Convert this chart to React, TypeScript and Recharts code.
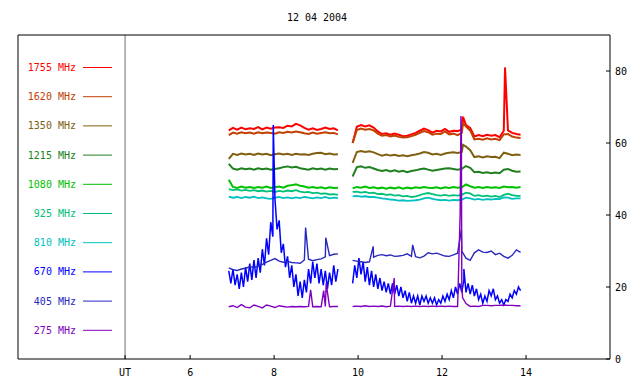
import React from 'react'
import { ComposedChart, Line, XAxis, YAxis, ReferenceLine } from 'recharts'

const FONT = '"DejaVu Sans Mono", monospace'

// time grids (UT hours) for the two observing blocks
const T1 = [6.92, 7.02, 7.12, 7.22, 7.32, 7.42, 7.52, 7.62, 7.72, 7.82, 7.92, 8.02, 8.12, 8.22, 8.32, 8.42, 8.52, 8.62, 8.72, 8.82, 8.92, 9.02, 9.12, 9.22, 9.32, 9.42, 9.52]
const T2 = [9.87, 9.97, 10.07, 10.17, 10.27, 10.37, 10.47, 10.57, 10.67, 10.77, 10.87, 10.97, 11.07, 11.17, 11.27, 11.37, 11.47, 11.57, 11.67, 11.77, 11.87, 11.97, 12.07, 12.17, 12.27, 12.37, 12.47, 12.57, 12.67, 12.77, 12.87, 12.97, 13.07, 13.17, 13.27, 13.37, 13.47, 13.57, 13.67, 13.77, 13.87]
// finer grid for the noisy 670 MHz channel
const T1F = [6.92, 6.97, 7.02, 7.07, 7.12, 7.17, 7.22, 7.27, 7.32, 7.37, 7.42, 7.47, 7.52, 7.57, 7.62, 7.67, 7.72, 7.77, 7.82, 7.87, 7.92, 7.97, 8.02, 8.07, 8.12, 8.17, 8.22, 8.27, 8.32, 8.37, 8.42, 8.47, 8.52, 8.57, 8.62, 8.67, 8.72, 8.77, 8.82, 8.87, 8.92, 8.97, 9.02, 9.07, 9.12, 9.17, 9.22, 9.27, 9.32, 9.37, 9.42, 9.47, 9.52]
const T2F = [9.87, 9.92, 9.97, 10.02, 10.07, 10.12, 10.17, 10.22, 10.27, 10.32, 10.37, 10.42, 10.47, 10.52, 10.57, 10.62, 10.67, 10.72, 10.77, 10.82, 10.87, 10.92, 10.97, 11.02, 11.07, 11.12, 11.17, 11.22, 11.27, 11.32, 11.37, 11.42, 11.47, 11.52, 11.57, 11.62, 11.67, 11.72, 11.77, 11.82, 11.87, 11.92, 11.97, 12.02, 12.07, 12.12, 12.17, 12.22, 12.27, 12.32, 12.37, 12.42, 12.47, 12.52, 12.57, 12.62, 12.67, 12.72, 12.77, 12.82, 12.87, 12.92, 12.97, 13.02, 13.07, 13.12, 13.17, 13.22, 13.27, 13.32, 13.37, 13.42, 13.47, 13.52, 13.57, 13.62, 13.67, 13.72, 13.77, 13.82, 13.87]
const GAP = 9.7

const V1755_1 = [63.5, 64.2, 63.7, 64.3, 63.8, 64.1, 63.9, 64.4, 63.8, 64.3, 64.0, 64.3, 64.4, 64.2, 64.8, 64.6, 65.3, 64.9, 64.2, 63.7, 64.1, 63.6, 63.9, 64.3, 63.9, 64.1, 63.5]
const V1755_2 = [60.0, 64.5, 65.0, 64.6, 64.9, 64.3, 63.2, 62.5, 62.7, 62.3, 62.6, 62.3, 61.9, 62.0, 62.4, 62.8, 63.4, 64.0, 63.6, 62.9, 63.4, 63.2, 63.9, 63.1, 63.4, 63.3, 63.8, 65.0, 64.2, 61.8, 62.2, 61.9, 62.3, 62.0, 62.2, 61.6, 63.4, 63.5, 62.8, 62.5, 62.3]
const S1755 = [[12.5, 67.3], [13.5, 81]]

const V1620_1 = [62.2, 62.9, 62.6, 63.0, 62.7, 62.9, 62.6, 63.0, 62.7, 62.9, 62.8, 62.6, 63.0, 62.8, 63.1, 62.9, 63.2, 63.0, 62.7, 62.5, 62.9, 62.6, 62.8, 63.0, 62.7, 62.8, 62.4]
const V1620_2 = [60.0, 63.6, 64.0, 63.7, 63.9, 63.5, 62.6, 62.0, 62.2, 61.8, 62.1, 61.7, 61.5, 61.6, 61.9, 62.3, 62.8, 63.3, 63.0, 62.3, 62.6, 62.5, 63.2, 62.4, 62.6, 62.2, 62.8, 64.6, 63.5, 61.0, 61.2, 60.9, 61.3, 61.0, 61.2, 60.8, 62.4, 62.5, 61.8, 61.5, 61.4]
const S1620 = [[12.5, 65.5]]

const V1350_1 = [55.6, 57.0, 56.7, 57.1, 56.8, 57.0, 56.7, 57.1, 56.8, 57.0, 56.6, 56.9, 57.1, 56.8, 57.0, 56.7, 57.0, 56.8, 56.9, 56.7, 57.0, 57.2, 57.3, 56.9, 57.1, 56.8, 56.9]
const V1350_2 = [54.5, 57.5, 57.8, 57.5, 57.7, 57.4, 56.9, 56.5, 56.8, 56.5, 56.7, 56.4, 56.6, 56.3, 56.6, 56.8, 57.1, 57.5, 57.3, 56.8, 57.0, 56.7, 57.1, 57.3, 57.4, 57.2, 57.5, 59.0, 58.0, 56.1, 56.3, 56.0, 56.3, 56.1, 56.2, 55.8, 57.3, 57.0, 56.6, 56.8, 56.7]
const S1350 = [[12.5, 59.5]]

const V1215_1 = [54.2, 52.9, 52.6, 53.0, 52.7, 52.9, 52.6, 53.0, 52.7, 52.9, 52.6, 52.8, 53.0, 53.3, 53.5, 53.2, 53.4, 53.0, 52.8, 52.6, 53.0, 52.7, 52.9, 52.6, 52.9, 52.7, 52.8]
const V1215_2 = [50.7, 53.3, 53.5, 53.1, 53.3, 52.9, 52.5, 52.2, 52.5, 52.1, 52.4, 52.0, 52.3, 51.9, 52.2, 52.4, 52.7, 52.9, 52.6, 52.3, 52.5, 52.7, 52.9, 53.0, 52.8, 52.6, 52.8, 53.6, 53.1, 51.9, 52.0, 51.7, 51.9, 51.6, 51.8, 51.6, 52.6, 52.8, 52.3, 52.0, 52.1]

const V1080_1 = [49.8, 47.8, 47.5, 47.9, 47.6, 47.8, 47.5, 47.8, 47.6, 47.9, 47.5, 47.7, 47.9, 47.6, 48.1, 48.3, 48.5, 48.1, 47.9, 47.6, 47.8, 47.5, 47.7, 47.4, 47.7, 47.5, 47.6]
const V1080_2 = [47.4, 47.8, 47.6, 47.9, 47.5, 47.7, 47.4, 47.6, 47.3, 47.6, 47.4, 47.7, 47.3, 47.6, 47.4, 47.7, 47.5, 47.8, 47.6, 47.5, 47.7, 47.4, 47.7, 47.5, 47.8, 47.6, 47.7, 48.5, 48.0, 47.6, 47.8, 47.5, 47.8, 47.6, 47.7, 47.5, 47.9, 47.7, 47.8, 47.6, 47.8]

const V925_1 = [47.2, 46.9, 47.1, 46.8, 47.0, 46.7, 46.9, 46.6, 46.8, 46.5, 46.7, 46.4, 46.7, 46.5, 46.8, 46.6, 46.9, 46.5, 46.3, 46.4, 46.1, 46.2, 45.9, 46.0, 45.7, 45.8, 45.6]
const V925_2 = [46.4, 46.5, 46.2, 46.4, 46.1, 46.2, 45.8, 45.9, 45.6, 45.7, 45.4, 45.5, 45.2, 45.3, 45.0, 45.2, 45.5, 45.9, 46.1, 45.8, 45.5, 45.4, 45.6, 45.3, 45.5, 45.4, 45.6, 46.2, 46.0, 45.3, 45.5, 45.2, 45.4, 45.1, 45.3, 45.0, 45.6, 45.9, 45.5, 45.3, 45.3]

const V810_1 = [45.1, 44.8, 45.0, 44.7, 45.0, 44.8, 45.1, 44.7, 44.9, 44.6, 44.5, 44.8, 45.0, 44.7, 44.9, 44.6, 44.9, 44.7, 45.0, 44.8, 44.6, 44.9, 44.7, 45.0, 44.6, 44.8, 44.7]
const V810_2 = [45.2, 45.3, 45.1, 45.2, 45.0, 45.0, 44.8, 44.6, 44.5, 44.3, 44.2, 44.0, 44.1, 43.9, 44.0, 44.1, 44.3, 44.6, 44.8, 44.5, 44.3, 44.1, 44.2, 44.0, 44.2, 44.1, 44.3, 44.8, 44.6, 44.3, 44.5, 44.2, 44.4, 44.3, 44.5, 44.4, 44.9, 44.8, 44.5, 44.6, 44.6]

const V670_1 = [24.5, 21.0, 25.0, 20.5, 23.5, 19.5, 24.0, 20.0, 25.5, 21.5, 26.5, 22.0, 27.5, 22.5, 28.0, 24.0, 30.5, 26.0, 33.5, 29.0, 38.0, 34.0, 44.5, 36.0, 38.5, 29.5, 32.0, 25.5, 28.5, 22.5, 26.0, 20.0, 23.5, 17.5, 21.5, 17.0, 22.0, 18.5, 25.0, 21.0, 27.0, 22.5, 26.5, 21.0, 25.0, 20.5, 24.5, 19.5, 24.0, 20.5, 26.0, 21.5, 25.0]
const V670_2 = [21.0, 26.0, 22.5, 28.0, 23.5, 27.0, 21.5, 25.5, 20.5, 24.5, 20.0, 23.5, 19.5, 22.5, 19.0, 21.5, 18.5, 21.0, 18.0, 21.0, 18.0, 20.5, 17.5, 20.0, 17.0, 19.0, 16.0, 18.5, 15.5, 17.5, 15.5, 17.5, 15.0, 17.5, 16.0, 17.5, 15.5, 17.0, 15.5, 17.0, 15.0, 16.5, 15.5, 17.5, 16.0, 18.0, 16.5, 19.0, 17.0, 20.0, 18.0, 21.0, 18.5, 22.0, 18.5, 21.0, 18.0, 20.5, 17.5, 19.5, 16.5, 18.0, 15.5, 17.5, 16.0, 19.0, 17.5, 19.5, 16.5, 17.5, 15.5, 16.5, 15.0, 16.5, 16.0, 18.0, 17.0, 19.0, 18.0, 20.0, 19.0]
const S670 = [[7.98, 65], [12.52, 25]]

const V405_1 = [25.3, 24.8, 24.6, 25.0, 25.2, 25.6, 25.4, 25.8, 26.3, 26.9, 27.4, 27.9, 27.2, 26.9, 27.1, 26.8, 26.7, 26.6, 27.5, 27.7, 27.3, 27.6, 27.8, 28.4, 28.7, 29.1, 29.2]
const V405_2 = [27.4, 27.2, 27.0, 26.8, 27.0, 28.3, 28.8, 29.0, 28.7, 28.9, 28.5, 28.6, 28.8, 29.2, 28.5, 28.4, 28.1, 28.6, 29.5, 29.2, 29.4, 29.0, 28.6, 28.5, 28.9, 29.4, 30.0, 28.0, 27.4, 29.5, 30.3, 29.7, 29.6, 30.0, 29.0, 29.4, 28.5, 28.0, 28.8, 30.3, 29.6]
const S405 = [[8.75, 36.5], [9.23, 33.7], [10.36, 31.3], [11.3, 31.7], [12.46, 36]]

const V275_1 = [14.5, 14.8, 14.3, 15.1, 14.4, 14.2, 15.0, 14.6, 14.2, 15.0, 14.7, 14.3, 14.8, 14.6, 14.4, 14.6, 14.5, 14.6, 14.5, 14.6, 14.5, 14.6, 14.5, 14.6, 14.5, 14.6, 14.6]
const V275_2 = [14.6, 14.7, 14.6, 14.8, 14.6, 14.7, 14.6, 14.7, 14.5, 14.7, 14.6, 14.7, 14.6, 14.7, 14.6, 14.7, 14.6, 14.7, 14.6, 14.7, 14.6, 14.7, 14.6, 14.7, 14.6, 14.6, 20.0, 15.4, 14.6, 14.7, 14.6, 14.9, 14.9, 14.8, 14.9, 14.9, 15.0, 14.9, 14.9, 14.8, 14.8]
const S275 = [[8.87, 19.2], [9.18, 19.0], [9.24, 21.0], [10.86, 22.5], [12.43, 40], [12.45, 67.5], [12.46, 64], [12.49, 17]]

const X_TICKS = [4.45, 6, 8, 10, 12, 14]
const Y_TICKS = [0, 20, 40, 60, 80]

type Pt = { t: number; v: number | null }

function build(t1: number[], v1: number[], t2: number[], v2: number[], spikes: number[][] = []): Pt[] {
  const pts: Pt[] = [
    ...t1.map((t, i) => ({ t, v: v1[i] })),
    { t: GAP, v: null },
    ...t2.map((t, i) => ({ t, v: v2[i] })),
    ...spikes.map(([t, v]) => ({ t, v })),
  ]
  return pts.sort((a, b) => a.t - b.t)
}

const SERIES = [
  { name: '1755 MHz', color: '#ff0000', width: 2.0, data: build(T1, V1755_1, T2, V1755_2, S1755) },
  { name: '1620 MHz', color: '#c04000', width: 2.0, data: build(T1, V1620_1, T2, V1620_2, S1620) },
  { name: '1350 MHz', color: '#806010', width: 2.0, data: build(T1, V1350_1, T2, V1350_2, S1350) },
  { name: '1215 MHz', color: '#208020', width: 2.0, data: build(T1, V1215_1, T2, V1215_2) },
  { name: '1080 MHz', color: '#00c000', width: 2.0, data: build(T1, V1080_1, T2, V1080_2) },
  { name: '925 MHz', color: '#00c078', width: 1.8, data: build(T1, V925_1, T2, V925_2) },
  { name: '810 MHz', color: '#00c0c0', width: 1.8, data: build(T1, V810_1, T2, V810_2) },
  { name: '670 MHz', color: '#0000ff', width: 1.5, data: build(T1F, V670_1, T2F, V670_2, S670) },
  { name: '405 MHz', color: '#2828c0', width: 1.4, data: build(T1, V405_1, T2, V405_2, S405) },
  { name: '275 MHz', color: '#8000c0', width: 1.4, data: build(T1, V275_1, T2, V275_2, S275) },
]

const tickStyle = { fontFamily: FONT, fontSize: 10, fill: '#000' }

export default function App() {
  return (
    <div style={{ position: 'absolute', left: 0, top: 0, width: 640, height: 384, background: '#fff' }}>
      <ComposedChart width={640} height={384} margin={{ top: 0, right: 0, bottom: 0, left: 0 }}>
        <XAxis
          xAxisId="b" dataKey="t" type="number" domain={[1.9, 16]} allowDataOverflow
          ticks={X_TICKS} tickFormatter={(v: number) => (v === 4.45 ? 'UT' : String(v))}
          height={25} stroke="#000" tickSize={-4} tickMargin={14} tick={tickStyle}
        />
        <XAxis
          xAxisId="t" orientation="top" dataKey="t" type="number" domain={[1.9, 16]} allowDataOverflow
          ticks={X_TICKS} height={35} stroke="#000" tickSize={-4} tick={false}
        />
        <YAxis yAxisId="l" orientation="left" width={18} stroke="#000" tick={false} tickLine={false} domain={[0, 90]} />
        <YAxis
          yAxisId="r" orientation="right" width={30} domain={[0, 90]} ticks={Y_TICKS}
          stroke="#000" tickSize={-4} tickMargin={9} tick={tickStyle}
        />
        <ReferenceLine xAxisId="b" yAxisId="r" x={4.45} stroke="#707070" strokeWidth={1} />
        {SERIES.map(s => (
          <Line
            key={s.name} xAxisId="b" yAxisId="r" data={s.data} dataKey="v" type="linear"
            stroke={s.color} strokeWidth={s.width} dot={false}
            isAnimationActive={false} connectNulls={false}
          />
        ))}
      </ComposedChart>
      <svg width={640} height={384} style={{ position: 'absolute', left: 0, top: 0, pointerEvents: 'none' }}>
        <text x={317} y={17} textAnchor="middle" dy="0.35em" fontFamily={FONT} fontSize={10} fill="#000">12 04 2004</text>
        {SERIES.map((s, i) => {
          const y = 67.5 + i * 29.2
          return (
            <g key={s.name}>
              <text x={76} y={y} dy="0.35em" textAnchor="end" fontFamily={FONT} fontSize={10} fill={s.color}>{s.name}</text>
              <line x1={83} x2={112} y1={y} y2={y} stroke={s.color} strokeWidth={1} />
            </g>
          )
        })}
      </svg>
    </div>
  )
}
